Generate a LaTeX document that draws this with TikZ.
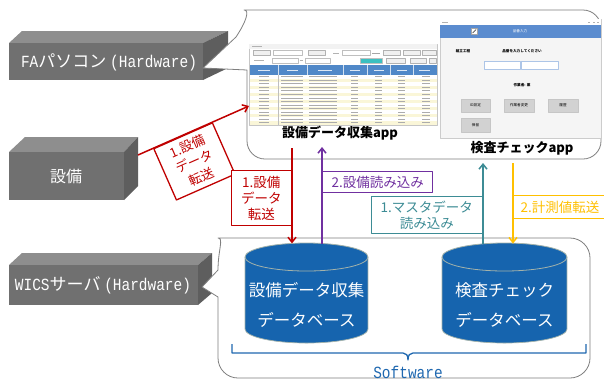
\documentclass[tikz,border=0pt]{standalone}
\usepackage{fontspec}
\setmainfont{Noto Sans CJK JP}
\newfontfamily\monofnt{Liberation Mono}
\usetikzlibrary{arrows.meta,calc}
\definecolor{cred}{HTML}{C00000}
\definecolor{cpur}{HTML}{7030A0}
\definecolor{cteal}{HTML}{3D8C95}
\definecolor{corg}{HTML}{FFC000}
\definecolor{cdb}{HTML}{1664AE}
\definecolor{cdbedge}{HTML}{A3B2AA}
\definecolor{cblue}{HTML}{1F68B0}
\definecolor{hwfront}{HTML}{707070}
\definecolor{hwtop}{HTML}{8E8E8E}
\definecolor{hwside}{HTML}{5E5E5E}
\definecolor{cline}{HTML}{7F7F7F}
\definecolor{shhead}{HTML}{5088C8}
\definecolor{shyel}{HTML}{FAF6D8}
\definecolor{shbar}{HTML}{5B8CCF}
\definecolor{shteal}{HTML}{3CC0C0}
\newcommand{\lat}[1]{{\monofnt\scalebox{0.85}[1]{#1}}}
\begin{document}
\begin{tikzpicture}[x=1pt,y=-1pt,line join=round,
  callout/.style={draw=cline,fill=white,line width=0.8},
  arr/.style={line width=1.5,-{Straight Barb[length=5,width=8]}},
  lblbox/.style={draw,fill=white,line width=1.3,inner sep=0,align=center,font=\fontsize{13.5}{16}\selectfont},
  applbl/.style={font=\fontsize{13}{15}\selectfont\bfseries,text=black,inner sep=0},
  hwtext/.style={text=white,inner sep=0,font=\fontsize{17}{20}\selectfont},
  dbtext/.style={text=white,inner sep=0,align=center,font=\fontsize{16.5}{30}\selectfont},
  txtbar/.style={line width=1,gray!65},
  shtxt/.style={inner sep=0,font=\fontsize{3.6}{4}\selectfont},
  btn/.style={fill=gray!35,draw=gray!45,line width=0.4},
  sbtn/.style={fill=gray!12,draw=gray!60,line width=0.3},
  brace/.style={cblue,line width=1.3}]
\useasboundingbox (0,0) rectangle (604,381);
\fill[white] (0,0) rectangle (604,381);

% ---------- hardware blocks ----------
\fill[hwtop] (9,43) -- (22,31) -- (228,31) -- (203,43) -- cycle;
\fill[hwside] (203,43) -- (228,31) -- (228,68) -- (203,80) -- cycle;
\fill[hwfront] (9,43) rectangle (203,80);
\node[hwtext] (fa) at (109,62) {\lat{FA}パソコン \lat{(Hardware)}};

\fill[hwtop] (9,152) -- (25,137) -- (138,137) -- (124,152) -- cycle;
\fill[hwside] (124,152) -- (138,137) -- (138,186) -- (124,200) -- cycle;
\fill[hwfront] (9,152) rectangle (124,200);
\node[hwtext,font=\fontsize{16}{18}\selectfont] (setsubi) at (66,176) {設備};

\fill[hwtop] (9,265) -- (22,253) -- (212,253) -- (198,265) -- cycle;
\fill[hwside] (198,265) -- (212,253) -- (212,293) -- (198,305) -- cycle;
\fill[hwfront] (9,265) rectangle (198,305);
\node[hwtext] (wics) at (103,285) {\lat{WICS}サーバ \lat{(Hardware)}};

% ---------- callouts ----------
\draw[callout,rounded corners=18] (247,120) -- (247,159) -- (601,159) -- (601,10) -- (262,10)
  [sharp corners] .. controls (250,10) and (246,22) .. (236,37) -- (203,68) -- (247,70) -- cycle;
\draw[callout,rounded corners=20] (218,330) -- (218,378) -- (590,378) -- (590,238) -- (238,238)
  [sharp corners] .. controls (224,238) and (218,250) .. (218,270) -- (202,287) -- (218,297) -- cycle;

% ---------- screenshot 1 ----------
\node[draw=gray!45,fill=white,inner sep=0,minimum width=188,minimum height=81,anchor=north west] (app1) at (249,44) {};
\fill[gray!10] (249.4,44.4) rectangle (436.6,48.5);
\draw[gray!60,line width=0.8] (252,46.3) -- (262,46.3);
% row 1
\foreach \a/\b in {253/270,308/325,383/400,403/420,422/436} {\filldraw[sbtn] (\a,50.5) rectangle (\b,55.5);}
\filldraw[fill=white,draw=gray!50,line width=0.3] (273,50.5) rectangle (302,55.5);
\filldraw[fill=white,draw=gray!50,line width=0.3] (342,50.5) rectangle (370,55.5);
\draw[gray!60,line width=0.8] (333,53) -- (339,53);
\draw[gray!70,line width=0.8] (372,53) -- (380,53);
% row 2
\draw[gray!60,line width=0.8] (254,60.5) -- (264,60.5);
\filldraw[fill=white,draw=gray!50,line width=0.3] (272,58) rectangle (298,63);
\filldraw[fill=white,draw=gray!50,line width=0.3] (305,58) rectangle (330,63);
\draw[gray!60,line width=0.6] (299.5,60.5) -- (303,60.5);
\filldraw[fill=shteal,draw=gray!50,line width=0.3] (360,58) rectangle (382,63);
\foreach \a/\b in {386/405,410/426,429/436} {\filldraw[sbtn] (\a,58) rectangle (\b,63);}
% header
\fill[shhead] (250,65) rectangle (436.6,75);
\foreach \x in {278,307,343,367,390,413} {\draw[white!75!shhead,line width=0.4] (\x,65) -- (\x,75);}
\foreach \a/\b in {258/270,287/298,318/332,350/360,374/384,397/407,419/430} {\draw[white!80!shhead,line width=0.8] (\a,70) -- (\b,70);}
% rows
\foreach \i in {0,...,13} {
  \pgfmathsetmacro{\ya}{75+3.54*\i}
  \pgfmathsetmacro{\yb}{\ya+3.54}
  \pgfmathsetmacro{\ym}{\ya+1.77}
  \ifodd\i \fill[shyel] (250,\ya) rectangle (436.6,\yb); \fi
  \draw[txtbar] (259,\ym) -- (269,\ym);
  \draw[txtbar] (281,\ym) -- (303,\ym);
  \draw[txtbar] (309,\ym) -- (337,\ym);
  \draw[txtbar] (351,\ym) -- (358,\ym);
  \draw[txtbar] (375,\ym) -- (382,\ym);
  \draw[txtbar] (398,\ym) -- (405,\ym);
  \draw[txtbar] (422,\ym) -- (430,\ym);
}
\draw[gray!50,line width=0.3] (278,75) -- (278,124.6);

% ---------- screenshot 2 ----------
\node[draw=gray!40,fill=gray!8,inner sep=0,minimum width=161,minimum height=119,anchor=north west] (app2) at (440,19) {};
\fill[white] (440.4,19.4) rectangle (600.6,25);
\draw[gray!60,line width=0.6] (442,22) -- (448,22);
\draw[gray!60,line width=0.5] (588,22) -- (590,22) (593,22) -- (595,22) (597,22) -- (599,22);
\fill[shbar] (440.4,25) rectangle (600.6,38);
\filldraw[fill=white,draw=gray!70,line width=0.4] (471.5,28.5) rectangle (477,34);
\draw[black!70,line width=0.7] (472.5,33) -- (476,29.5);
\node[shtxt,text=white] at (520,31) {品番入力};
\node[shtxt,font=\fontsize{3.6}{4}\selectfont\bfseries] at (463,51) {組立工程};
\node[shtxt,font=\fontsize{3.6}{4}\selectfont\bfseries] at (522,51) {品番を入力してください};
\filldraw[fill=white,draw=shbar!50,line width=0.5] (484,61) rectangle (520,69);
\filldraw[fill=white,draw=shbar!50,line width=0.5] (521,61) rectangle (558,69);
\node[shtxt,font=\fontsize{3.6}{4}\selectfont\bfseries] at (522,85) {作業者: 薬};
\filldraw[btn] (461,99) rectangle (490,112);
\node[shtxt] at (475.5,105.5) {ID設定};
\filldraw[btn] (504,99) rectangle (534,112);
\node[shtxt] at (519,105.5) {作業者変更};
\filldraw[btn] (548,99) rectangle (578,112);
\node[shtxt] at (563,105.5) {履歴};
\filldraw[btn] (461,118) rectangle (490,132);
\node[shtxt] at (475.5,125) {保留};

% app labels
\node[applbl] (app1lbl) at (340,133) {設備データ収集app};
\node[applbl] (app2lbl) at (522,148) {検査チェックapp};

% ---------- databases ----------
\fill[cdb] (245,257) rectangle (368,329);
\fill[cdb] (306.5,329) ellipse [x radius=61.5,y radius=14];
\draw[cdbedge,line width=0.7] (245,257) -- (245,329) arc[start angle=180,end angle=0,x radius=61.5,y radius=14] -- (368,257);
\filldraw[fill=cdb,draw=cdbedge,line width=0.8] (306.5,257) ellipse [x radius=61.5,y radius=14];
\node[dbtext] (db1) at (306.5,305) {設備データ収集\\データベース};

\fill[cdb] (442,257) rectangle (567,329);
\fill[cdb] (504.5,329) ellipse [x radius=62.5,y radius=14];
\draw[cdbedge,line width=0.7] (442,257) -- (442,329) arc[start angle=180,end angle=0,x radius=62.5,y radius=14] -- (567,257);
\filldraw[fill=cdb,draw=cdbedge,line width=0.8] (504.5,257) ellipse [x radius=62.5,y radius=14];
\node[dbtext] (db2) at (504.5,305) {検査チェック\\データベース};

% brace + Software
\draw[brace] (232,344) -- (232,353) -- (403,353) .. controls (406,353) and (408,355) .. (408,360)
  .. controls (408,355) and (410,353) .. (413,353) -- (586,353) -- (586,344);
\node[text=cblue,inner sep=0,font=\fontsize{17}{19}\selectfont] (sw) at (408,372) {\lat{Software}};

% ---------- connectors ----------
\coordinate (r1s) at (138,155);
\coordinate (r1e) at (249,106);
\node[lblbox,draw=cred,text=cred,rotate=23.8,anchor=north west,minimum width=64,minimum height=56,font=\fontsize{13}{16.5}\selectfont]
  (r1lbl) at ($(r1s)!0.135!(r1e)$) {1.設備\\データ\\転送};
\draw[arr,cred] (r1s) -- (r1e);

\coordinate (r2s) at (292,148);
\coordinate (r2e) at (292,243.4);
\node[lblbox,draw=cred,text=cred,anchor=north east,minimum width=60,minimum height=55] (r2lbl) at (292,170) {1.設備\\データ\\転送};
\draw[arr,cred] (r2s) -- (r2e);

\coordinate (p1s) at (322,243.6);
\coordinate (p1e) at (322,147);
\node[lblbox,draw=cpur,text=cpur,anchor=north west,minimum width=110,minimum height=21] (p1lbl) at (322,171) {2.設備読み込み};
\draw[arr,cpur] (p1s) -- (p1e);

\coordinate (t1s) at (483,243.9);
\coordinate (t1e) at (483,163);
\node[lblbox,draw=cteal,text=cteal,anchor=north east,minimum width=111,minimum height=37] (t1lbl) at (483,196) {1.マスタデータ\\読み込み};
\draw[arr,cteal] (t1s) -- (t1e);

\coordinate (o1s) at (513,163);
\coordinate (o1e) at (513,243.6);
\node[lblbox,draw=corg,text=corg,anchor=north west,minimum width=100,minimum height=23,text width=90,align=left] (o1lbl) at (513,195) {\hspace*{2pt}2.計測値転送};
\draw[arr,corg] (o1s) -- (o1e);
\end{tikzpicture}
\end{document}
